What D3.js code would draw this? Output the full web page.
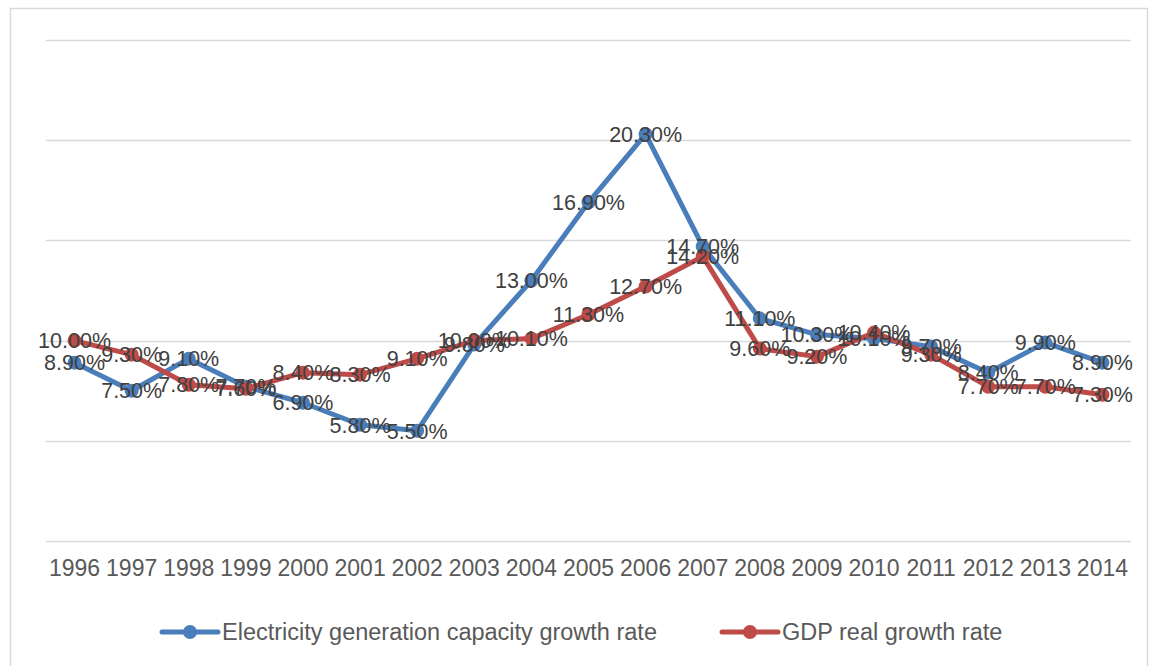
<!DOCTYPE html>
<html>
<head>
<meta charset="utf-8">
<script src="https://cdn.jsdelivr.net/npm/d3@7"></script>
<style>
  html, body { margin: 0; padding: 0; background: #fff; }
  svg { display: block; font-family: "Liberation Sans", Arial, sans-serif; }
</style>
</head>
<body>
<svg id="chart" width="1151" height="666"></svg>
<script>
// Years on the category axis
const years = ["1996","1997","1998","1999","2000","2001","2002","2003","2004","2005",
               "2006","2007","2008","2009","2010","2011","2012","2013","2014"];
// Electricity generation capacity growth rate (%)
const capacityGrowth = [8.9, 7.5, 9.1, 7.7, 6.9, 5.8, 5.5, 9.8, 13.0, 16.9,
                        20.3, 14.7, 11.1, 10.3, 10.1, 9.7, 8.4, 9.9, 8.9];
// GDP real growth rate (%)
const gdpGrowth = [10.0, 9.3, 7.8, 7.6, 8.4, 8.3, 9.1, 10.0, 10.1, 11.3,
                   12.7, 14.2, 9.6, 9.2, 10.4, 9.3, 7.7, 7.7, 7.3];
// Value-axis ticks (gridlines only, no labels shown)
const yTicks = [0, 5, 10, 15, 20, 25];

const seriesNames = ["Electricity generation capacity growth rate", "GDP real growth rate"];
const seriesColors = ["#4a7ebb", "#be4b48"];

const svg = d3.select("#chart");

// Chart-area frame
svg.append("rect")
  .attr("x", 10.5).attr("y", 8.5)
  .attr("width", 1137).attr("height", 670)
  .attr("fill", "none").attr("stroke", "#d9d9d9").attr("stroke-width", 1.5);

const plot = { left: 46, right: 1131, top: 40, bottom: 541 };

const x = d3.scaleBand().domain(years).range([plot.left, plot.right]).paddingInner(0).paddingOuter(0);
const y = d3.scaleLinear().domain([0, 25]).range([plot.bottom, plot.top]);

// Horizontal gridlines
svg.append("g")
  .selectAll("line")
  .data(yTicks)
  .join("line")
  .attr("x1", plot.left).attr("x2", plot.right)
  .attr("y1", d => Math.round(y(d)) + 0.5).attr("y2", d => Math.round(y(d)) + 0.5)
  .attr("stroke", "#d9d9d9").attr("stroke-width", 1.5);

// Category axis labels
const xAxis = d3.axisBottom(x).tickSize(0).tickPadding(19);
const xg = svg.append("g").attr("transform", `translate(0,${plot.bottom})`).call(xAxis);
xg.select(".domain").remove();
xg.selectAll("text")
  .attr("font-size", 23)
  .attr("font-family", "\"Liberation Sans\", Arial, sans-serif")
  .attr("fill", "#595959");

const cx = d => x(d) + x.bandwidth() / 2;
const line = d3.line().x(d => cx(d.year)).y(d => y(d.value));

const series = [capacityGrowth, gdpGrowth].map((vals, i) => ({
  name: seriesNames[i],
  color: seriesColors[i],
  points: vals.map((v, j) => ({ year: years[j], value: v }))
}));

// Lines and markers
series.forEach(s => {
  const g = svg.append("g");
  g.append("path")
    .datum(s.points)
    .attr("d", line)
    .attr("fill", "none")
    .attr("stroke", s.color)
    .attr("stroke-width", 5)
    .attr("stroke-linejoin", "round")
    .attr("stroke-linecap", "round");
  g.selectAll("circle")
    .data(s.points)
    .join("circle")
    .attr("cx", d => cx(d.year))
    .attr("cy", d => y(d.value))
    .attr("r", 7)
    .attr("fill", s.color);
});

// Data labels centred on each point
series.forEach(s => {
  svg.append("g")
    .selectAll("text")
    .data(s.points)
    .join("text")
    .attr("x", d => cx(d.year))
    .attr("y", d => y(d.value))
    .attr("dy", "0.36em")
    .attr("text-anchor", "middle")
    .attr("font-size", 21.5)
    .attr("fill", "#404040")
    .text(d => d.value.toFixed(2) + "%");
});

// Legend
const legendItems = [
  { x: 162, name: seriesNames[0], color: seriesColors[0] },
  { x: 722, name: seriesNames[1], color: seriesColors[1] }
];
const lg = svg.append("g");
legendItems.forEach(it => {
  const ly = 632;
  lg.append("line")
    .attr("x1", it.x).attr("x2", it.x + 56)
    .attr("y1", ly).attr("y2", ly)
    .attr("stroke", it.color).attr("stroke-width", 5).attr("stroke-linecap", "round");
  lg.append("circle")
    .attr("cx", it.x + 28).attr("cy", ly).attr("r", 7).attr("fill", it.color);
  lg.append("text")
    .attr("x", it.x + 60).attr("y", ly)
    .attr("dy", "0.36em")
    .attr("font-size", 23.5)
    .attr("fill", "#595959")
    .text(it.name);
});
</script>
</body>
</html>
